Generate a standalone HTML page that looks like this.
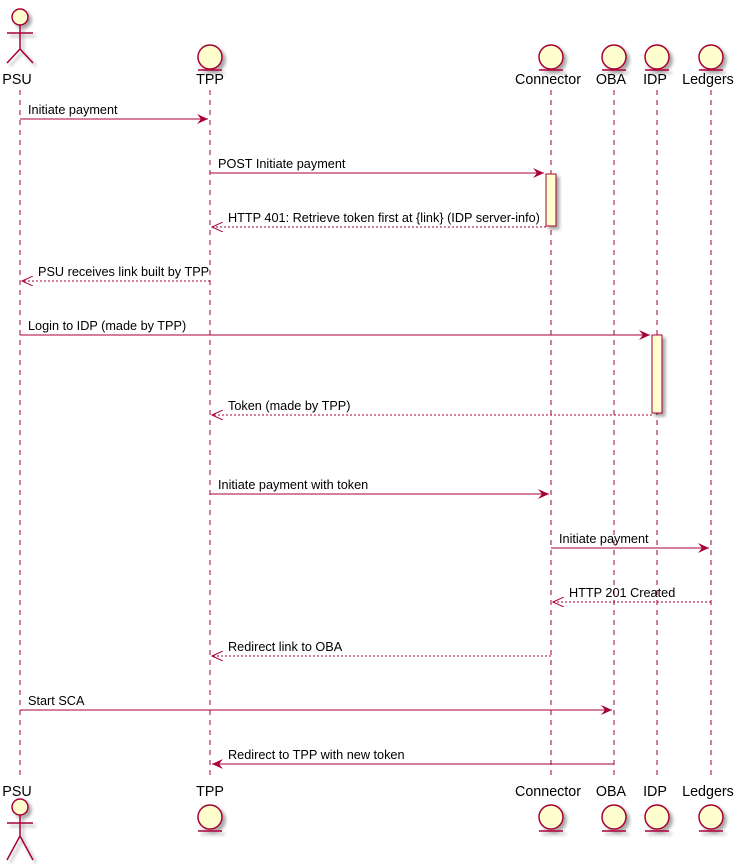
<!DOCTYPE html>
<html><head><style>body{margin:0;background:#fff}svg{display:block}</style></head><body>
<svg width="739" height="864" xmlns="http://www.w3.org/2000/svg" font-family="Liberation Sans, sans-serif">
<defs>
<filter id="sh" x="-50%" y="-50%" width="200%" height="200%"><feDropShadow dx="3" dy="3" stdDeviation="1.5" flood-color="#000" flood-opacity="0.35"/></filter>
<marker id="ah" markerWidth="12" markerHeight="10" refX="11" refY="5" orient="auto" markerUnits="userSpaceOnUse"><path d="M0,0 L11,5 L0,10 L4,5 Z" fill="#A80036"/></marker>
<marker id="ao" markerWidth="12" markerHeight="10" refX="11" refY="5" orient="auto" markerUnits="userSpaceOnUse"><path d="M0,0 L11,5 L0,10" fill="none" stroke="#A80036" stroke-width="1"/></marker>
</defs>
<g stroke="#A80036" stroke-dasharray="5,5" stroke-width="1">
<line x1="20" y1="90" x2="20" y2="780"/><line x1="210" y1="90" x2="210" y2="780"/><line x1="551" y1="90" x2="551" y2="780"/><line x1="614" y1="90" x2="614" y2="780"/><line x1="657" y1="90" x2="657" y2="780"/><line x1="711" y1="90" x2="711" y2="780"/>
</g>
<g fill="#FEFECE" stroke="#A80036" stroke-width="1.5" filter="url(#sh)">
<circle cx="20" cy="17" r="8"/><path d="M20,25 V49 M7,33 H33 M7,63 L20,49 L33,63" fill="none"/>
<circle cx="20" cy="807" r="8"/><path d="M20,815 V836 M7,823 H33 M7,860 L20,836 L33,860" fill="none"/>
<circle cx="210" cy="57" r="12"/><line x1="198" y1="70" x2="222" y2="70"/>
<circle cx="551" cy="57" r="12"/><line x1="539" y1="70" x2="563" y2="70"/>
<circle cx="614" cy="57" r="12"/><line x1="602" y1="70" x2="626" y2="70"/>
<circle cx="657" cy="57" r="12"/><line x1="645" y1="70" x2="669" y2="70"/>
<circle cx="711" cy="57" r="12"/><line x1="699" y1="70" x2="723" y2="70"/>
<circle cx="210" cy="817" r="12"/><line x1="198" y1="831" x2="222" y2="831"/>
<circle cx="551" cy="817" r="12"/><line x1="539" y1="831" x2="563" y2="831"/>
<circle cx="614" cy="817" r="12"/><line x1="602" y1="831" x2="626" y2="831"/>
<circle cx="657" cy="817" r="12"/><line x1="645" y1="831" x2="669" y2="831"/>
<circle cx="711" cy="817" r="12"/><line x1="699" y1="831" x2="723" y2="831"/>
<rect x="546" y="174" width="10" height="52" stroke-width="1"/>
<rect x="652" y="335" width="10" height="78" stroke-width="1"/>
</g>
<g font-size="14.3" fill="#000" text-anchor="middle">
<text x="17" y="84">PSU</text><text x="210" y="84">TPP</text><text x="548" y="84">Connector</text><text x="611" y="84">OBA</text><text x="655" y="84">IDP</text><text x="708" y="84">Ledgers</text>
<text x="17" y="796">PSU</text><text x="210" y="796">TPP</text><text x="548" y="796">Connector</text><text x="611" y="796">OBA</text><text x="655" y="796">IDP</text><text x="708" y="796">Ledgers</text>
</g>
<g stroke="#A80036" stroke-width="1" fill="none">
<line x1="20" y1="119" x2="208" y2="119" marker-end="url(#ah)"/>
<line x1="210" y1="173" x2="544" y2="173" marker-end="url(#ah)"/>
<line x1="546" y1="227" x2="212" y2="227" stroke-dasharray="2,2" marker-end="url(#ao)"/>
<line x1="210" y1="281" x2="22" y2="281" stroke-dasharray="2,2" marker-end="url(#ao)"/>
<line x1="20" y1="335" x2="650" y2="335" marker-end="url(#ah)"/>
<line x1="652" y1="415" x2="212" y2="415" stroke-dasharray="2,2" marker-end="url(#ao)"/>
<line x1="210" y1="494" x2="549" y2="494" marker-end="url(#ah)"/>
<line x1="551" y1="548" x2="709" y2="548" marker-end="url(#ah)"/>
<line x1="711" y1="602" x2="553" y2="602" stroke-dasharray="2,2" marker-end="url(#ao)"/>
<line x1="551" y1="656" x2="212" y2="656" stroke-dasharray="2,2" marker-end="url(#ao)"/>
<line x1="20" y1="710" x2="612" y2="710" marker-end="url(#ah)"/>
<line x1="614" y1="764" x2="212" y2="764" marker-end="url(#ah)"/>
</g>
<g font-size="12.7" fill="#000">
<text x="28" y="114">Initiate payment</text>
<text x="218" y="168">POST Initiate payment</text>
<text x="228" y="222">HTTP 401: Retrieve token first at {link} (IDP server-info)</text>
<text x="38" y="276">PSU receives link built by TPP</text>
<text x="28" y="330">Login to IDP (made by TPP)</text>
<text x="228" y="410">Token (made by TPP)</text>
<text x="218" y="489">Initiate payment with token</text>
<text x="559" y="543">Initiate payment</text>
<text x="569" y="597">HTTP 201 Created</text>
<text x="228" y="651">Redirect link to OBA</text>
<text x="28" y="705">Start SCA</text>
<text x="228" y="759">Redirect to TPP with new token</text>
</g>
</svg>
</body></html>
